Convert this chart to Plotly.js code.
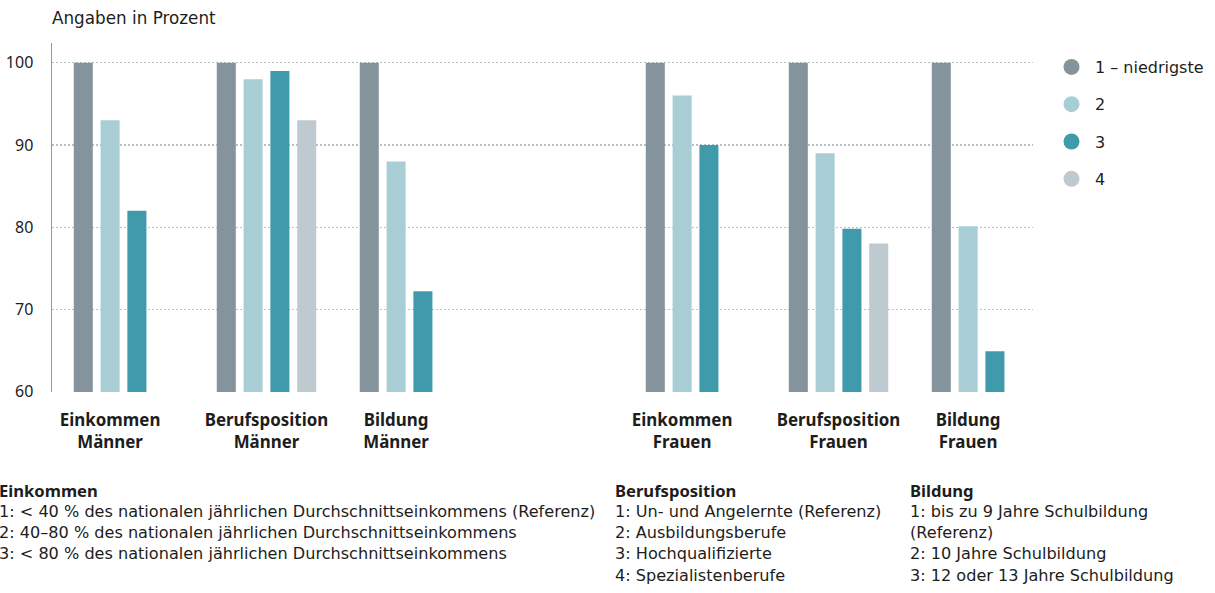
<!DOCTYPE html>
<html>
<head>
<meta charset="utf-8">
<script src="https://cdn.plot.ly/plotly-3.0.1.min.js"></script>
<style>html,body{margin:0;padding:0;background:#fff;}#chart{width:1215px;height:593px;}</style>
</head>
<body>
<div id="chart"></div>
<script>
// ---- data ----
var categories = ['Einkommen<br>Männer', 'Berufsposition<br>Männer', 'Bildung<br>Männer', '', 'Einkommen<br>Frauen', 'Berufsposition<br>Frauen', 'Bildung<br>Frauen'];
var seriesNames = ['1 – niedrigste', '2', '3', '4'];
var level1 = [100, 100, 100, null, 100, 100, 100];
var level2 = [93, 98, 88, null, 96, 89, 80.1];
var level3 = [82, 99, 72.2, null, 90, 79.8, 64.9];
var level4 = [null, 93, null, null, null, 78, null];
var yTicks = [60, 70, 80, 90, 100];
var yTitle = 'Angaben in Prozent';
var noteHeads = ['Einkommen', 'Berufsposition', 'Bildung'];
var noteLines = [
  ['1: < 40 % des nationalen jährlichen Durchschnittseinkommens (Referenz)', '2: 40–80 % des nationalen jährlichen Durchschnittseinkommens', '3: < 80 % des nationalen jährlichen Durchschnittseinkommens'],
  ['1: Un- und Angelernte (Referenz)', '2: Ausbildungsberufe', '3: Hochqualifizierte', '4: Spezialistenberufe'],
  ['1: bis zu 9 Jahre Schulbildung', '(Referenz)', '2: 10 Jahre Schulbildung', '3: 12 oder 13 Jahre Schulbildung']
];

// ---- styles ----
var colors = ['#85939c', '#a8cdd5', '#3f9aab', '#bfc9d0'];
var FONT = 'DejaVu Sans, sans-serif';
var BOLD = 'Noto Sans, sans-serif';
var TXT = '#1d1d1b';
var W = 1215, H = 593;
var plotL = 52, plotR = 1033, plotT = 42.5, plotB = 392.5;
var bargap = 0.25;

var allSeries = [level1, level2, level3, level4];
var xIdx = categories.map(function (c, i) { return i; });

var traces = allSeries.map(function (vals, k) {
  return {
    type: 'bar', x: xIdx, y: vals, name: seriesNames[k],
    marker: { color: colors[k], line: { width: 0 } },
    showlegend: false, hoverinfo: 'y+name'
  };
});
// legend entries with round markers
seriesNames.forEach(function (n, k) {
  traces.push({
    type: 'scatter', mode: 'markers', x: [null], y: [null], name: n,
    legendgroup: 'g' + k,
    marker: { color: colors[k], size: 16, symbol: 'circle' },
    showlegend: true, hoverinfo: 'skip'
  });
});

// tick labels centered under the bars actually present
var tickvals = [], ticktext = [];
categories.forEach(function (c, i) {
  if (!c) return;
  var n = allSeries.filter(function (s) { return s[i] !== null; }).length;
  var slot = (1 - bargap) / allSeries.length;
  tickvals.push(i - (allSeries.length - n) * slot / 2);
  ticktext.push(c);
});

function px2paper(px) { return (px - plotL) / (plotR - plotL); }
function py2paper(py) { return (plotB - py) / (plotB - plotT); }

var noteX = [-3, 613, 908];
var noteY0 = 491, noteStep = 21.3;
var annotations = [];
noteHeads.forEach(function (h, j) {
  annotations.push({
    xref: 'paper', yref: 'paper', x: px2paper(noteX[j]), y: py2paper(noteY0),
    xanchor: 'left', yanchor: 'middle', align: 'left', showarrow: false,
    text: h, font: { family: BOLD, size: 16.6, color: TXT, weight: 'bold' }
  });
  noteLines[j].forEach(function (line, i) {
    annotations.push({
      xref: 'paper', yref: 'paper', x: px2paper(noteX[j]), y: py2paper(noteY0 + noteStep * (i + 1)),
      xanchor: 'left', yanchor: 'middle', align: 'left', showarrow: false,
      text: line, font: { family: FONT, size: 16.1, color: TXT }
    });
  });
});

var layout = {
  width: W, height: H,
  paper_bgcolor: '#ffffff', plot_bgcolor: '#ffffff',
  margin: { l: plotL, r: W - plotR, t: plotT, b: H - plotB, pad: 0 },
  font: { family: FONT, size: 16, color: TXT },
  title: {
    text: yTitle, xref: 'container', yref: 'container',
    x: plotL / W, xanchor: 'left', y: 1 - 18 / H, yanchor: 'middle',
    font: { family: FONT, size: 16.8, color: TXT }
  },
  barmode: 'group', bargap: bargap, bargroupgap: 0.29,
  xaxis: {
    type: 'linear', range: [-0.5, 6.36],
    tickmode: 'array', tickvals: tickvals, ticktext: ticktext,
    showgrid: false, zeroline: false, showline: false, ticks: '',
    tickfont: { family: BOLD, size: 16.9, color: TXT, weight: 'bold' },
    ticklabelstandoff: 16, fixedrange: true
  },
  yaxis: {
    range: [59.95, 102.4], tickmode: 'array', tickvals: yTicks,
    showgrid: true, gridcolor: '#b3c3cc', gridwidth: 1.2, griddash: '1.5px,2.5px',
    zeroline: false, showline: true, linecolor: '#8d9aa3', linewidth: 1.5,
    ticks: '', tickfont: { family: 'Noto Sans, sans-serif', size: 16, color: TXT },
    ticklabelstandoff: 14, fixedrange: true
  },
  legend: {
    xref: 'container', yref: 'container', x: 1048 / W, y: 1 - 50 / H,
    xanchor: 'left', yanchor: 'top', bgcolor: 'rgba(0,0,0,0)',
    font: { family: FONT, size: 16, color: TXT }, itemwidth: 37,
    traceorder: 'grouped', tracegroupgap: 13.5, itemclick: false, itemdoubleclick: false
  },
  annotations: annotations,
  showlegend: true
};

Plotly.newPlot('chart', traces, layout, { displayModeBar: false, staticPlot: true });
</script>
</body>
</html>
